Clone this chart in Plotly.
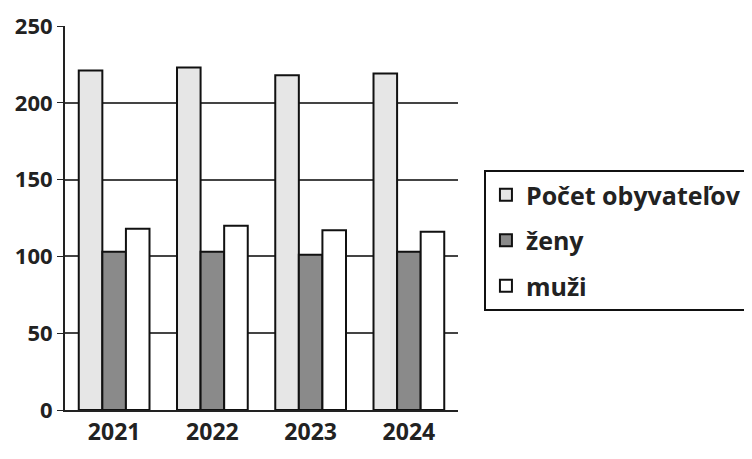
import plotly.graph_objects as go

years = ["2021", "2022", "2023", "2024"]
pocet = [221, 223, 218, 219]
zeny = [103, 103, 101, 103]
muzi = [118, 120, 117, 116]
y_ticks = [0, 50, 100, 150, 200, 250]

FAM = "Open Sans, Liberation Sans, sans-serif"

fig = go.Figure()
fig.add_trace(go.Bar(name="Počet obyvateľov", x=years, y=pocet, legendgroup="a",
                     marker=dict(color="#e6e6e6", line=dict(color="#111111", width=2))))
fig.add_trace(go.Bar(name="ženy", x=years, y=zeny, legendgroup="b",
                     marker=dict(color="#8a8a8a", line=dict(color="#111111", width=2))))
fig.add_trace(go.Bar(name="muži", x=years, y=muzi, legendgroup="c",
                     marker=dict(color="#ffffff", line=dict(color="#111111", width=2))))

fig.update_layout(
    width=752, height=459,
    margin=dict(l=57, r=302, t=18, b=57, autoexpand=False),
    paper_bgcolor="white", plot_bgcolor="white",
    barmode="group", bargap=0.28, bargroupgap=0.0,
    font=dict(family=FAM, size=22, color="#222222"),
    showlegend=True,
    legend=dict(x=1.066, y=0.625, xanchor="left", yanchor="top",
                bordercolor="#111111", borderwidth=2,
                font=dict(family=FAM, size=25, color="#222222", weight="bold"),
                itemwidth=30, tracegroupgap=10),
    xaxis=dict(showline=True, linecolor="#222222", linewidth=2, ticks="", automargin=False,
               tickfont=dict(size=23, family=FAM, color="#222222", weight="bold"),
               showgrid=False),
    yaxis=dict(range=[0, 250], tickvals=y_ticks, showline=True, linecolor="#222222", linewidth=2,
               ticks="outside", ticklen=6, tickcolor="#222222", automargin=False,
               ticklabeloverflow="allow",
               showgrid=True, gridcolor="#444444", gridwidth=1.5,
               tickfont=dict(size=22, family=FAM, color="#222222", weight="bold"),
               zeroline=False),
)

fig.write_html("out.html")
